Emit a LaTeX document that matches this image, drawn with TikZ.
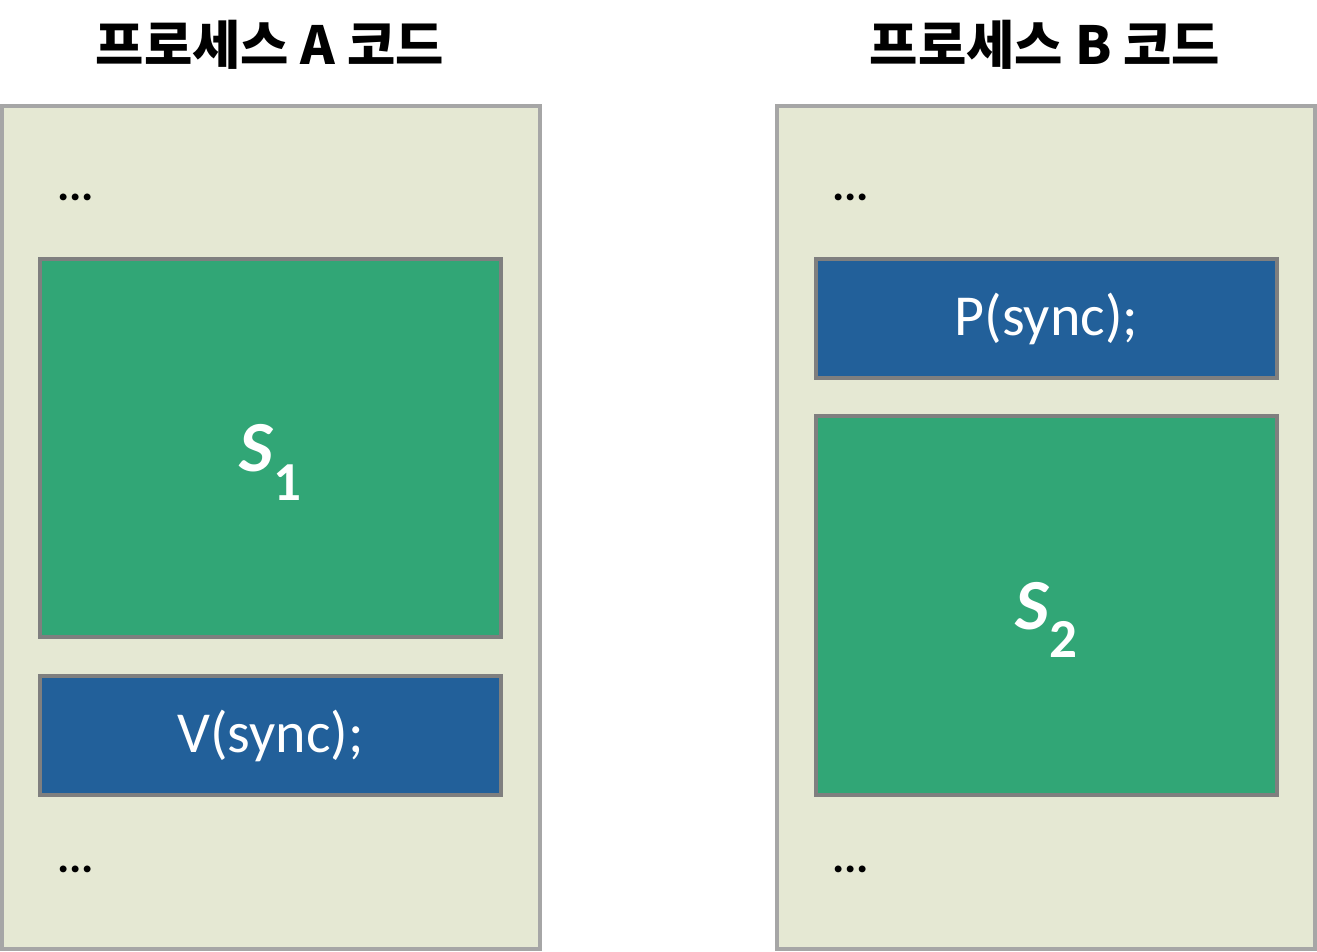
\documentclass[tikz,border=0pt]{standalone}
\usepackage{fontspec}
\setmainfont{Carlito}
\newfontfamily\krfont{Noto Sans CJK KR}
\definecolor{panelbg}{HTML}{E5E8D3}
\definecolor{panelline}{HTML}{A6A6A6}
\definecolor{boxline}{HTML}{7F7F7F}
\definecolor{sgreen}{HTML}{31A676}
\definecolor{sblue}{HTML}{22609A}
\begin{document}
\begin{tikzpicture}[x=1pt,y=-1pt,
  panel/.style={draw=panelline, fill=panelbg, line width=4pt, rectangle, inner sep=0pt, minimum width=538pt, minimum height=843pt},
  critbox/.style={draw=boxline, fill=sgreen, line width=4pt, rectangle, inner sep=0pt, minimum width=461pt, text=white, text depth=0pt},
  syncbox/.style={draw=boxline, fill=sblue, line width=4pt, rectangle, inner sep=0pt, minimum width=461pt, minimum height=119pt, text=white, font=\fontsize{58}{66}\selectfont},
  titletext/.style={font=\krfont\bfseries\fontsize{52.5}{60}\selectfont, inner sep=0pt},
  dots/.style={font=\bfseries\fontsize{46}{50}\selectfont, inner sep=0pt, anchor=base west}
]
\fill[white] (0,0) rectangle (1317,951);
\useasboundingbox (0,0) rectangle (1317,951);

% titles
\node[titletext] (ta) at (270,45) {프로세스 A 코드};
\node[titletext] (tb) at (1045,45) {프로세스 B 코드};

% panels
\node[panel] (pa) at (271,527.5) {};
\node[panel] (pb) at (1046,527.5) {};

% process A
\node[dots] (da1) at (57,200) {...};
\node[critbox, minimum height=378pt] (s1) at (270.5,448) {\fontsize{72}{80}\selectfont\bfseries\itshape S\raisebox{-0.4em}{\upshape\fontsize{55}{60}\selectfont 1}};
\node[syncbox] (v) at (270.5,735.5) {\raisebox{-4pt}{V(sync);}};
\node[dots] (da2) at (57,872) {...};

% process B
\node[dots] (db1) at (832,200) {...};
\node[syncbox] (p) at (1046.5,318.5) {\raisebox{-4pt}{P(sync);}};
\node[critbox, minimum height=379pt] (s2) at (1046.5,605.5) {\fontsize{72}{80}\selectfont\bfseries\itshape S\raisebox{-0.4em}{\upshape\fontsize{55}{60}\selectfont 2}};
\node[dots] (db2) at (832,872) {...};
\end{tikzpicture}
\end{document}
